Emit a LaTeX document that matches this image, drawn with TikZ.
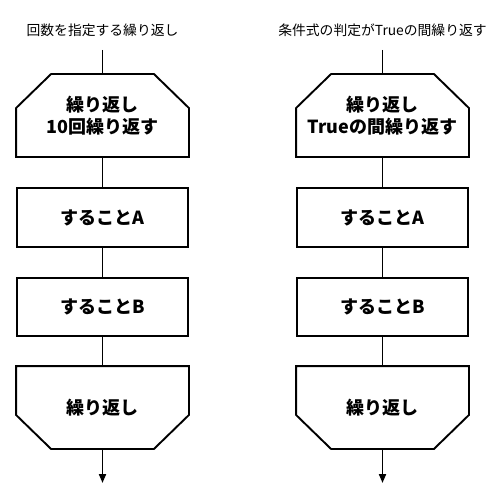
\documentclass[tikz,border=0pt]{standalone}
\usepackage{fontspec}
\setmainfont{Noto Sans CJK JP}
\usetikzlibrary{arrows.meta,calc}
\begin{document}
\begin{tikzpicture}[x=1pt,y=-1pt,
  line width=1.9pt,
  boxtxt/.style={font=\fontsize{18}{22}\selectfont\bfseries, align=center},
  proc/.style={draw, boxtxt, minimum width=171pt, inner sep=0pt},
  loopn/.style={boxtxt, minimum width=171pt, minimum height=81pt, inner sep=0pt},
  ttl/.style={font=\fontsize{13.8}{16}\selectfont},
  arr/.style={-{Triangle[length=9pt,width=7pt]}}]
\useasboundingbox (0,0) rectangle (500,500);
\foreach \cx/\side/\ttext/\ltext in {102.5/L/回数を指定する繰り返し/10回繰り返す, 382.5/R/条件式の判定がTrueの間繰り返す/Trueの間繰り返す}{
  \node[ttl] (t\side) at (\cx,30) {\ttext};
  \coordinate (s\side) at (\cx,50);
  \node[loopn] (l\side) at (\cx,115.5) {繰り返し\\\ltext};
  \draw ($(l\side.north west)+(35,0)$) -- ($(l\side.north east)+(-35,0)$)
        -- ($(l\side.north east)+(0,34)$) -- (l\side.south east)
        -- (l\side.south west) -- ($(l\side.north west)+(0,34)$) -- cycle;
  \node[proc, minimum height=59pt] (a\side) at (\cx,217.5) {することA};
  \node[proc, minimum height=58pt] (b\side) at (\cx,307) {することB};
  \node[loopn] (e\side) at (\cx,407.5) {繰り返し};
  \draw (e\side.north west) -- (e\side.north east)
        -- ($(e\side.south east)+(0,-34)$) -- ($(e\side.south east)+(-35,0)$)
        -- ($(e\side.south west)+(35,0)$) -- ($(e\side.south west)+(0,-34)$) -- cycle;
  \coordinate (z\side) at (\cx,483);
  \draw (s\side) -- (l\side.north);
  \draw (l\side.south) -- (a\side.north);
  \draw (a\side.south) -- (b\side.north);
  \draw (b\side.south) -- (e\side.north);
  \draw[arr] (e\side.south) -- (z\side);
}
\end{tikzpicture}
\end{document}
